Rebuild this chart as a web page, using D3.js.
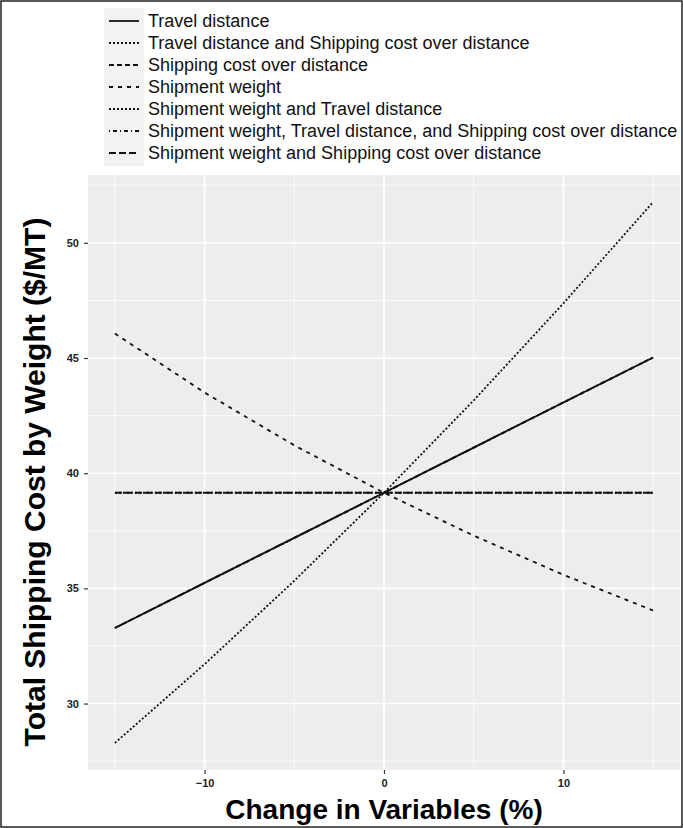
<!DOCTYPE html>
<html>
<head>
<meta charset="utf-8">
<script src="https://cdn.jsdelivr.net/npm/d3@7"></script>
<style>
  html, body { margin: 0; padding: 0; background: #fff; }
  svg { display: block; }
</style>
</head>
<body>
<svg id="chart" width="683" height="828"></svg>
<script>
// Percentage change applied to the input variables
const changes = [-15, -10, -5, 0, 5, 10, 15];

// Total shipping cost by weight ($/MT) for each scenario
const travelDistance            = [33.28, 35.24, 37.19, 39.15, 41.11, 43.07, 45.02];
const travelAndShipping         = [28.29, 31.71, 35.33, 39.15, 43.16, 47.37, 51.77];
const shippingCost              = [33.28, 35.24, 37.19, 39.15, 41.11, 43.07, 45.02];
const shipmentWeight            = [46.06, 43.50, 41.21, 39.15, 37.29, 35.59, 34.04];
const weightAndTravel           = [39.15, 39.15, 39.15, 39.15, 39.15, 39.15, 39.15];
const weightTravelShipping      = [33.28, 35.24, 37.19, 39.15, 41.11, 43.07, 45.02];
const weightAndShipping         = [39.15, 39.15, 39.15, 39.15, 39.15, 39.15, 39.15];

const seriesNames = [
  "Travel distance",
  "Travel distance and Shipping cost over distance",
  "Shipping cost over distance",
  "Shipment weight",
  "Shipment weight and Travel distance",
  "Shipment weight, Travel distance, and Shipping cost over distance",
  "Shipment weight and Shipping cost over distance"
];
const seriesValues = [travelDistance, travelAndShipping, shippingCost, shipmentWeight,
                      weightAndTravel, weightTravelShipping, weightAndShipping];

const xTicks = [-10, 0, 10];
const yTicks = [30, 35, 40, 45, 50];

// line patterns per scenario
const dashes = ["none", "2,2", "5,3", "4,5", "2,2", "1,3,4,3", "7,3"];

const svg = d3.select("#chart");

// outer frame
svg.append("rect")
  .attr("x", 1).attr("y", 1).attr("width", 681).attr("height", 826)
  .attr("fill", "none").attr("stroke", "#222").attr("stroke-width", 1.5);

const panel = { left: 88, right: 680, top: 175, bottom: 770 };

// 5% expansion on each side, as in ggplot2
const xExt = d3.extent(changes);
const xPad = (xExt[1] - xExt[0]) * 0.05;
const allVals = seriesValues.flat();
const yExt = d3.extent(allVals);
const yPad = (yExt[1] - yExt[0]) * 0.05;

const x = d3.scaleLinear().domain([xExt[0] - xPad, xExt[1] + xPad]).range([panel.left, panel.right]);
const y = d3.scaleLinear().domain([yExt[0] - yPad, yExt[1] + yPad]).range([panel.bottom, panel.top]);

// panel background
svg.append("rect")
  .attr("x", panel.left).attr("y", panel.top)
  .attr("width", panel.right - panel.left).attr("height", panel.bottom - panel.top)
  .attr("fill", "#ededed");

// minor gridlines (midpoints between major breaks)
const xMinor = [-15, -5, 5, 15];
const yMinor = [27.5, 32.5, 37.5, 42.5, 47.5, 52.5].filter(v => v > y.domain()[0] && v < y.domain()[1]);
const grid = svg.append("g");
grid.selectAll(".xm").data(xMinor).join("line")
  .attr("x1", d => x(d)).attr("x2", d => x(d)).attr("y1", panel.top).attr("y2", panel.bottom)
  .attr("stroke", "#fff").attr("stroke-width", 0.8);
grid.selectAll(".ym").data(yMinor).join("line")
  .attr("y1", d => y(d)).attr("y2", d => y(d)).attr("x1", panel.left).attr("x2", panel.right)
  .attr("stroke", "#fff").attr("stroke-width", 0.8);
grid.selectAll(".xM").data(xTicks).join("line")
  .attr("x1", d => x(d)).attr("x2", d => x(d)).attr("y1", panel.top).attr("y2", panel.bottom)
  .attr("stroke", "#fff").attr("stroke-width", 1.6);
grid.selectAll(".yM").data(yTicks).join("line")
  .attr("y1", d => y(d)).attr("y2", d => y(d)).attr("x1", panel.left).attr("x2", panel.right)
  .attr("stroke", "#fff").attr("stroke-width", 1.6);

// axes
const xAxis = svg.append("g")
  .attr("transform", `translate(0,${panel.bottom})`)
  .call(d3.axisBottom(x).tickValues(xTicks).tickSize(4).tickPadding(5));
const yAxis = svg.append("g")
  .attr("transform", `translate(${panel.left},0)`)
  .call(d3.axisLeft(y).tickValues(yTicks).tickSize(4).tickPadding(5));
[xAxis, yAxis].forEach(a => {
  a.select(".domain").remove();
  a.selectAll(".tick line").attr("stroke", "#333").attr("stroke-width", 1.2);
  a.selectAll(".tick text")
    .attr("fill", "#222")
    .style("font-family", "Liberation Sans, Arial, sans-serif")
    .style("font-size", "11px")
    .style("font-weight", "bold");
});

// scenario lines
const line = d3.line().x((d, i) => x(changes[i])).y(d => y(d));
svg.append("g").selectAll("path").data(seriesValues).join("path")
  .attr("d", d => line(d))
  .attr("fill", "none")
  .attr("stroke", "#111")
  .attr("stroke-width", 1.8)
  .attr("stroke-dasharray", (d, i) => dashes[i]);

// axis titles
svg.append("text")
  .attr("x", (panel.left + panel.right) / 2).attr("y", 819)
  .attr("text-anchor", "middle")
  .style("font-family", "Liberation Sans, Arial, sans-serif")
  .style("font-size", "28px").style("font-weight", "bold")
  .attr("fill", "#000")
  .text("Change in Variables (%)");

svg.append("text")
  .attr("transform", `translate(45,482) rotate(-90)`)
  .attr("text-anchor", "middle")
  .style("font-family", "Liberation Sans, Arial, sans-serif")
  .style("font-size", "30px").style("font-weight", "bold")
  .attr("fill", "#000")
  .text("Total Shipping Cost by Weight ($/MT)");

// legend
const legend = svg.append("g");
const rowH = 22, legTop = 10, keyX = 106, keyW = 36;
legend.append("rect")
  .attr("x", keyX - 2).attr("y", legTop - 2)
  .attr("width", keyW + 4).attr("height", rowH * seriesNames.length + 4)
  .attr("fill", "#f2f2f2");
const rows = legend.selectAll("g.row").data(seriesNames).join("g")
  .attr("transform", (d, i) => `translate(0,${legTop + rowH * i + rowH / 2})`);
rows.append("line")
  .attr("x1", keyX + 3).attr("x2", keyX + keyW - 3)
  .attr("stroke", "#111").attr("stroke-width", 1.8)
  .attr("stroke-dasharray", (d, i) => dashes[i]);
rows.append("text")
  .attr("x", keyX + keyW + 6).attr("dy", "0.35em")
  .style("font-family", "Liberation Sans, Arial, sans-serif")
  .style("font-size", "18px")
  .attr("fill", "#111")
  .text(d => d);
</script>
</body>
</html>
